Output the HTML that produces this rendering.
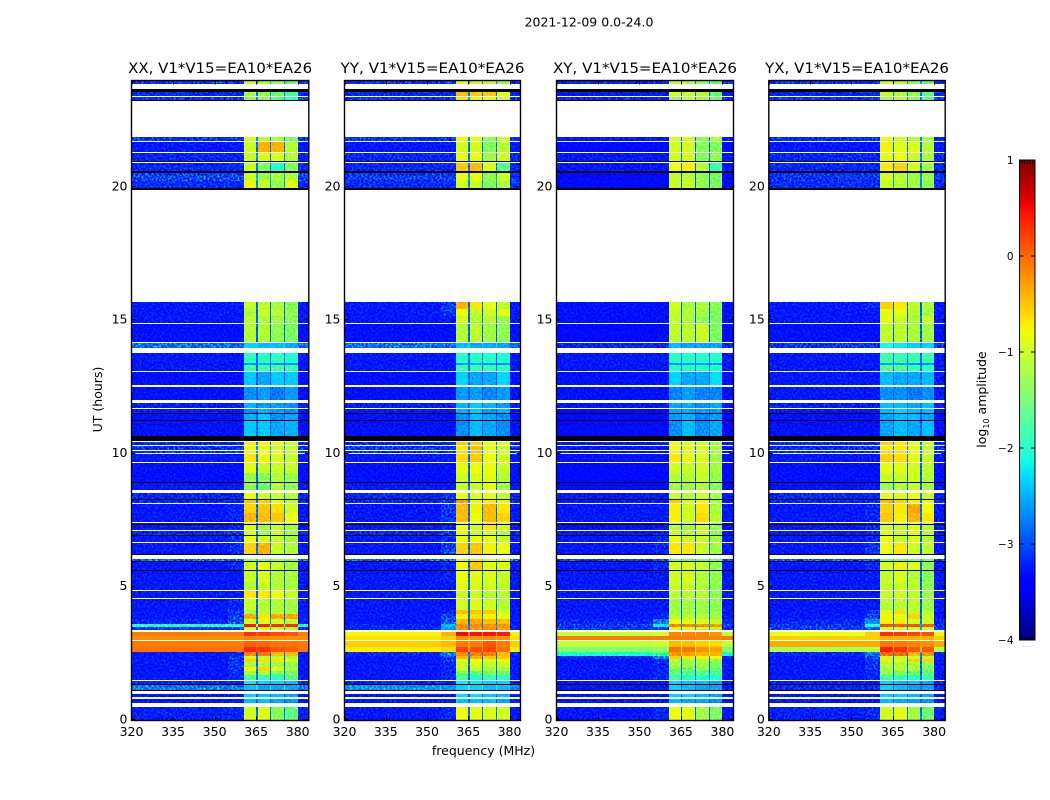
<!DOCTYPE html>
<html lang="en">
<head>
<meta charset="utf-8">
<title>2021-12-09 0.0-24.0</title>
<style>
html,body{margin:0;padding:0;background:#fff;width:1050px;height:800px;overflow:hidden}
svg{display:block}
text{font-family:"DejaVu Sans","Liberation Sans",sans-serif;fill:#000}
</style>
</head>
<body>
<svg id="figure" width="1050" height="800" viewBox="0 0 1050 800" xmlns="http://www.w3.org/2000/svg">
<defs>
<filter id="speckle" x="0" y="0" width="1" height="1" color-interpolation-filters="sRGB">
<feTurbulence type="fractalNoise" baseFrequency="0.5" numOctaves="2" seed="7"/>
<feColorMatrix type="matrix" values="2.6 0 0 0 -1 2.6 0 0 0 -1 2.6 0 0 0 -1 0 0 0 0 1"/>
</filter>
</defs>
<rect x="0" y="0" width="1050" height="800" fill="#fff"/>
<text x="589" y="26.5" font-size="12.5" text-anchor="middle">2021-12-09 0.0-24.0</text>
<g id="panels"></g>
<text x="0" y="0" font-size="12.5" text-anchor="middle" transform="translate(102 399.5) rotate(-90)">UT (hours)</text>
<text x="483.5" y="755" font-size="12.5" text-anchor="middle">frequency (MHz)</text>
<g id="colorbar"></g>
<text x="0" y="0" font-size="12.5" text-anchor="middle" transform="translate(986 399.5) rotate(-90)">log<tspan font-size="8" dy="3">10</tspan><tspan dy="-3"> amplitude</tspan></text>
</svg>
<script>
// ---- axis data ----
const xTicks = [320, 335, 350, 365, 380];
const yTicks = [0, 5, 10, 15, 20];
const colorbarTicks = [-4, -3, -2, -1, 0, 1];
const panelTitles = ["XX, V1*V15=EA10*EA26", "YY, V1*V15=EA10*EA26", "XY, V1*V15=EA10*EA26", "YX, V1*V15=EA10*EA26"];

// ---- frequency channels (MHz): off-band, near-band, subband 1, gap, subband 2, gap, subband 3, gap, subband 4, off-band ----
const freqEdges = [320, 355, 360.5, 365, 365.5, 370, 370.5, 375, 375.5, 380, 384];

// ---- time rows with data (UT hours) ----
const utStart = [0,.64,.86,1.15,1.36,
1.50,1.69,1.84,1.99,2.18,
2.29,2.40,2.54,2.74,3.02,
3.15,3.38,3.49,3.62,3.79,
3.98,4.13,4.57,4.87,5.19,
5.65,5.96,6.25,6.69,6.96,
7.15,7.35,7.44,7.79,8.13,
8.29,8.65,8.92,9.29,9.67,
10.01,10.14,10.31,10.66,11.25,
11.54,11.70,12.00,12.54,12.59,
13.08,13.31,13.41,13.97,14.18,
14.89,15.18,15.43,19.95,20.22,
20.60,20.97,21.30,21.74,23.26,
23.41,23.88];
const utEnd = [.51,.80,1.00,1.31,1.48,
1.69,1.84,1.99,2.18,2.29,
2.40,2.54,2.74,2.98,3.15,
3.29,3.49,3.62,3.79,3.98,
4.13,4.54,4.85,5.19,5.62,
5.92,6.04,6.64,6.94,7.13,
7.33,7.41,7.79,8.10,8.27,
8.54,8.89,9.29,9.64,9.98,
10.11,10.28,10.45,11.21,11.50,
11.66,11.89,12.51,12.56,13.05,
13.31,13.41,13.76,14.14,14.85,
15.18,15.43,15.68,20.22,20.52,
20.89,21.27,21.69,21.87,23.37,
23.57,24];

// ---- flagged time ranges: missing (white) and zero (black) ----
const missingStart = [.51,.80,1.00,1.48,2.98,3.29,4.54,4.85,6.04,6.64,7.13,7.41,8.10,8.54,9.64,9.98,10.11,10.28,10.45,11.66,11.89,12.51,12.56,13.05,13.76,14.14,14.85,15.68,20.89,21.27,21.69,21.87,23.37,23.67];
const missingEnd = [.64,.86,1.09,1.50,3.02,3.38,4.57,4.87,6.20,6.69,7.15,7.44,8.13,8.65,9.67,10.01,10.14,10.31,10.49,11.70,12.00,12.54,12.59,13.08,13.97,14.18,14.89,19.88,20.93,21.30,21.74,23.22,23.41,23.88];
const zeroStart = [1.09,1.31,5.62,5.92,6.20,6.94,7.33,8.27,8.89,10.49,11.21,11.50,19.88,20.52,20.93,23.22,23.57];
const zeroEnd = [1.15,1.36,5.65,5.96,6.25,6.96,7.35,8.29,8.92,10.66,11.25,11.54,19.95,20.60,20.97,23.26,23.67];

// ---- log10 amplitude per data row: [off-band, near-band, sub1, sub2, sub3, sub4] ----
const xxLevels = [
[-3.15,-3.1,-.95,-.9,-1.35,-1.6],[-3.2,-3.2,-2.4,-2.4,-2.5,-2.6],[-3.2,-3.2,-2.3,-2.35,-2.4,-2.5],[-2.6,-2.6,-2.4,-2.5,-2.5,-2.5],[-3.1,-3.1,-2.2,-2.3,-2.3,-2.4],
[-3.2,-3.1,-1.7,-1.9,-2,-1.6],[-3.2,-3.05,-1.2,-1.1,-1.4,-1.4],[-3.2,-3,-.75,-.6,-.9,-1.2],[-3.2,-3,-1.2,-1.1,-1.2,-1.3],[-3.2,-3,-.6,-.65,-.65,-.85],
[-3.2,-3,-1,-1.1,-1.1,-1.2],[-3.2,-3.05,-.25,-.2,-.5,-.5],[-.05,-.05,.35,.3,.1,.05],[-.1,-.1,.05,0,-.05,-.05],[-.2,-.2,-.15,-.2,-.2,-.2],
[-.1,-.1,.3,.25,.15,.1],[-3,-2.9,-.9,-.9,-1,-1.1],[-1.9,-1.9,.45,.4,.3,.3],[-3.1,-2.8,-1,-.9,-1,-1.1],[-3.2,-2.9,-.4,-.7,-.4,-.4],
[-3.2,-3,-1.2,-1.1,-1.1,-1.2],[-3.2,-3.1,-1,-1.1,-1.1,-1.2],[-3.2,-3.2,-.7,-.7,-.8,-1],[-3.2,-3.2,-1.1,-1,-1.1,-1.15],[-3.2,-3.2,-1,-.9,-1.1,-1.15],
[-3.2,-3.1,-.95,-.85,-1,-1.2],[-2.7,-2.7,-1.3,-1.3,-1.3,-1.4],[-3.2,-3.05,-.6,-.45,-1,-1.1],[-3.2,-3.05,-.8,-.9,-1,-1.2],[-3.1,-3,-.9,-1.2,-1,-1.2],
[-3.2,-3.1,-.9,-1.2,-1,-1.2],[-3.2,-3.1,-.9,-1.2,-1,-1.2],[-3.2,-3.1,-.45,-.5,-.55,-.8],[-3.2,-3.1,-.6,-.55,-.65,-.95],[-3.1,-3.1,-.55,-.55,-.85,-1.1],
[-3.1,-3.1,-.8,-.95,-1,-1.1],[-3.2,-3.2,-1.3,-1.5,-1.1,-1.3],[-3.25,-3.25,-1.25,-1.35,-1.1,-1.25],[-3.25,-3.25,-.85,-1,-1,-1],[-3.2,-3.2,-.7,-.8,-.9,-1],
[-3,-3,-.75,-.8,-.9,-1],[-3,-3,-.85,-.9,-.95,-1],[-3.1,-3.1,-.7,-.75,-.85,-1],[-3.25,-3.25,-2.35,-2.35,-2.5,-2.45],[-3.25,-3.25,-2.45,-2.35,-2.6,-2.5],
[-3.2,-3.2,-2.6,-2.45,-2.55,-2.6],[-3.15,-3.15,-2.45,-2.55,-2.55,-2.6],[-3.25,-3.25,-2.6,-2.55,-2.7,-2.55],[-3.1,-3.1,-2.4,-2.4,-2.5,-2.5],[-3.25,-3.25,-2.35,-2.5,-2.35,-2.35],
[-3.2,-3.2,-1.85,-1.85,-1.8,-1.9],[-3.2,-3.2,-2.6,-2.5,-2.6,-2.6],[-3.2,-3.2,-1.95,-1.95,-1.95,-2.05],[-2.65,-2.65,-2.3,-2.4,-2.4,-2.5],[-3.25,-3.25,-1.1,-1.1,-1.3,-1.4],
[-3.2,-3.2,-1.05,-1.15,-1.2,-1.35],[-3.2,-3.2,-1.15,-1,-1.1,-1.3],[-3.2,-3.2,-1,-1.05,-1.15,-1.35],[-3.05,-3.05,-.75,-1,-1.3,-.85],[-2.85,-2.85,-1,-1.2,-1.2,-1.1],
[-3.1,-3.1,-1,-1.4,-2,-1.4],[-3.1,-3.1,-1,-.9,-.9,-1.1],[-3.2,-3.2,-1,-.45,-.45,-1.1],[-3,-3,-.95,-1.1,-1.2,-1.4],[-3,-3,-1.3,-1.3,-1.6,-1.9],
[-3.1,-3.1,-1.2,-1.3,-1.5,-1.8],[-3,-3,-1,-1.2,-1.3,-1.6]];

const yyLevels = [
[-3.2,-3.1,-.8,-.85,-.9,-.95],[-3.2,-3.2,-2.4,-2.4,-2.4,-2.5],[-3.2,-3.2,-2.25,-2.25,-2.35,-2.4],[-2.5,-2.5,-2.3,-2.3,-2.4,-2.4],[-3.1,-3.1,-2.2,-2.2,-2.3,-2.3],
[-3.2,-3.1,-1.7,-2,-1.9,-1.9],[-3.2,-3.1,-1.5,-1.6,-1.4,-1.5],[-3.2,-3.1,-.95,-1,-1.2,-1.2],[-3.2,-3.1,-1,-.9,-1,-1],[-3.2,-3,-.9,-.8,-.95,-.75],
[-3.2,-2.9,-.5,-.45,-.55,-.55],[-3.1,-2.6,-.25,-.2,-.2,-.45],[-.7,-.6,.2,.15,.2,-.05],[-.55,-.45,-.1,-.1,.1,-.1],[-.65,-.55,-.2,-.25,-.2,-.2],
[-.75,-.4,.5,.45,.45,.4],[-3.1,-2.5,-.3,-.35,-.3,-.35],[-3.1,-2.4,-.25,-.25,-.3,-.3],[-3.2,-2.7,-.45,-.4,-.5,-.5],[-3.2,-2.9,-.75,-.65,-.75,-.85],
[-3.2,-3.1,-.5,-.55,-.55,-.95],[-3.2,-3.2,-.95,-.9,-.95,-1.1],[-3.2,-3.2,-1,-1,-1.1,-1.1],[-3.2,-3.2,-.85,-.9,-.95,-1.05],[-3.2,-3.1,-.8,-.85,-.9,-1],
[-3.2,-3.1,-.8,-.55,-.85,-.9],[-2.7,-2.7,-.75,-.7,-.85,-.9],[-3.2,-2.9,-.6,-.55,-.75,-.8],[-3.2,-3.1,-.8,-.8,-.85,-1],[-3.1,-3,-.85,-1,-.9,-1.1],
[-3.2,-3.1,-.8,-.95,-.7,-.95],[-3.2,-3.1,-.8,-.95,-.7,-.95],[-3.2,-3,-.5,-.8,-.5,-.6],[-3.2,-3,-.5,-.75,-.5,-.7],[-3.1,-2.9,-.35,-.85,-.7,-.9],
[-3.1,-3,-.8,-.9,-.85,-1],[-3.2,-3.2,-1,-1,-.85,-1.2],[-3.25,-3.25,-1,-.9,-.85,-1.1],[-3.25,-3.25,-.85,-.8,-.8,-1],[-3.2,-3.2,-.65,-.55,-.8,-.95],
[-3,-3,-.6,-.5,-.8,-.95],[-3,-3,-.7,-.5,-.85,-1],[-3.1,-3.1,-.55,-.6,-.8,-.9],[-3.25,-3.25,-2.6,-2.4,-2.5,-2.6],[-3.25,-3.25,-2.6,-2.4,-2.5,-2.6],
[-3.2,-3.2,-2.45,-2.35,-2.55,-2.45],[-3.15,-3.15,-2.45,-2.35,-2.45,-2.55],[-3.25,-3.25,-2.55,-2.55,-2.65,-2.55],[-3.1,-3.1,-2.4,-2.4,-2.5,-2.5],[-3.25,-3.25,-2.3,-2.5,-2.5,-2.3],
[-3.2,-3.2,-1.85,-1.9,-1.9,-1.95],[-3.2,-3.2,-2.6,-2.5,-2.6,-2.6],[-3.2,-3.2,-2,-2,-2,-2.05],[-2.65,-2.65,-2.4,-2.5,-2.5,-2.5],[-3.25,-3.25,-1.1,-1.05,-1.2,-1.3],
[-3.2,-3.2,-.95,-1.1,-1.1,-1.25],[-3.2,-2.95,-.8,-1.05,-.95,-.85],[-3.2,-2.95,-.45,-.7,-.85,-1.05],[-3.05,-3.05,-.95,-1,-1.4,-1.15],[-2.95,-2.95,-.85,-.8,-1.3,-1],
[-3.1,-3.1,-.55,-.5,-.9,-1.7],[-3.1,-3.1,-.85,-.85,-1.2,-1],[-3.2,-3.2,-.95,-.95,-1.4,-1.1],[-3,-3,-.75,-.85,-1.25,-1],[-3,-3,-.65,-.75,-.75,-.95],
[-3.1,-3.1,-.5,-.55,-.55,-.85],[-3,-3,-.9,-1,-1.1,-1.3]];

const xyLevels = [
[-3.2,-3.1,-.8,-.85,-1.2,-1.4],[-3.2,-3.2,-2.4,-2.5,-2.5,-2.6],[-3.2,-3.2,-2.3,-2.3,-2.4,-2.5],[-3.2,-3.2,-2.3,-2.4,-2.5,-2.5],[-3.2,-3.2,-2.3,-2.4,-2.4,-2.5],
[-3.2,-3.1,-1.8,-2,-2,-2],[-3.2,-3.1,-1.6,-1.7,-1.7,-1.8],[-3.2,-3.1,-1.4,-1.5,-1.3,-1.5],[-3.2,-3.1,-1.2,-1.2,-1.2,-1.4],[-3.2,-3.1,-1.1,-1.2,-1.1,-1.3],
[-3.1,-2.6,-.6,-.7,-.75,-.8],[-2,-1.8,-.3,-.35,-.45,-.45],[-1.5,-1.4,-.05,-.05,-.2,-.3],[-1.05,-1,-.45,-.45,-.55,-.6],[-.1,-.1,-.1,-.1,-.15,-.15],
[-1.05,-1,-.15,-.15,-.15,-.25],[-3,-2.9,-.9,-.85,-1,-1.1],[-2.9,-2.2,-.2,-.2,-.25,-.3],[-3.1,-2.6,-.8,-.85,-.9,-1],[-3.2,-3.1,-1.1,-1.1,-1.1,-1.2],
[-3.2,-3.2,-1.2,-1.2,-1.2,-1.3],[-3.2,-3.2,-1.2,-1.2,-1.2,-1.3],[-3.2,-3.2,-1.1,-1.1,-1.1,-1.3],[-3.2,-3.2,-1,-1,-1.1,-1.3],[-3.2,-3.2,-.95,-.9,-1.1,-1.25],
[-3.2,-3.1,-.9,-.9,-1,-1.3],[-2.9,-2.9,-1.5,-1.5,-1.5,-1.5],[-3.2,-3.1,-.7,-.7,-1,-1.2],[-3.2,-3.1,-.8,-1,-.95,-1.2],[-3.2,-3.1,-1,-1.1,-1,-1.3],
[-3.25,-3.2,-1.1,-1.2,-.95,-1.3],[-3.25,-3.2,-1.1,-1.2,-.95,-1.3],[-3.2,-3.2,-.75,-.95,-.65,-1.1],[-3.2,-3.2,-.75,-.95,-.7,-1.15],[-3.2,-3.2,-.55,-.95,-.75,-1.15],
[-3.2,-3.2,-1,-1.1,-.95,-1.2],[-3.3,-3.3,-1.2,-1.2,-1.1,-1.35],[-3.3,-3.3,-1.1,-1.1,-1,-1.25],[-3.3,-3.3,-.95,-1,-.95,-1.2],[-3.25,-3.25,-.7,-.85,-.9,-1.2],
[-3.2,-3.2,-.75,-.85,-.9,-1.15],[-3.2,-3.2,-.8,-.9,-.95,-1.2],[-3.2,-3.2,-.8,-.85,-.95,-1.2],[-3.3,-3.3,-2.6,-2.4,-2.6,-2.5],[-3.3,-3.3,-2.55,-2.45,-2.65,-2.55],
[-3.3,-3.3,-2.5,-2.5,-2.55,-2.55],[-3.2,-3.2,-2.5,-2.5,-2.6,-2.5],[-3.25,-3.25,-2.65,-2.55,-2.65,-2.65],[-3.2,-3.2,-2.5,-2.5,-2.6,-2.5],[-3.25,-3.25,-2.3,-2.5,-2.5,-2.25],
[-3.2,-3.2,-2,-2,-2,-2.05],[-3.2,-3.2,-2.6,-2.6,-2.6,-2.6],[-3.2,-3.2,-2,-2,-2,-2],[-3.1,-3.1,-2.4,-2.5,-2.5,-2.5],[-3.3,-3.3,-1.05,-1.05,-1,-1.4],
[-3.25,-3.25,-1.05,-1.15,-1.3,-1.4],[-3.25,-3.25,-1,-1.1,-1.2,-1.4],[-3.25,-3.25,-.95,-1.2,-1.15,-1.35],[-3.3,-3.3,-1,-1,-1.3,-1.4],[-3.3,-3.3,-1,-1.05,-1.3,-1.45],
[-3.2,-3.2,-.8,-.75,-1.1,-1.9],[-3.2,-3.2,-.95,-.95,-1.35,-1.3],[-3.3,-3.3,-.95,-.95,-1.35,-1.4],[-3.2,-3.2,-.9,-.95,-1.3,-1.2],[-3.1,-3.1,-1.25,-1.1,-1.2,-1.45],
[-3.2,-3.2,-.95,-1,-1.1,-1.55],[-3.1,-3.1,-1.1,-1.2,-1.3,-1.5]];

const yxLevels = [
[-3.15,-3.1,-.95,-.85,-1.2,-1.5],[-3.2,-3.2,-2.4,-2.5,-2.5,-2.6],[-3.2,-3.2,-2.3,-2.3,-2.4,-2.5],[-3.1,-3.1,-2.3,-2.4,-2.5,-2.5],[-3.15,-3.15,-2.3,-2.4,-2.4,-2.5],
[-3.2,-3.1,-1.8,-1.9,-2,-1.9],[-3.2,-3.1,-1.3,-1.4,-1.5,-1.6],[-3.2,-3,-1.2,-1.1,-1.2,-1.4],[-3.2,-3,-1.1,-1.1,-1.15,-1.3],[-3.2,-3,-.7,-.95,-.6,-.6],
[-3.2,-2.8,-1,-1,-1,-1.1],[-3.1,-2.6,-.1,-.1,-.45,-.3],[-1.2,-1.1,.4,.3,.1,.1],[-.35,-.35,-.1,-.1,-.15,-.2],[-.55,-.55,-.4,-.4,-.4,-.4],
[-.8,-.55,.3,.25,.2,.15],[-2.9,-2.7,-.9,-.9,-.95,-1],[-3,-2,.1,.05,.05,.05],[-3.1,-2.5,-.75,-.75,-.95,-1],[-3.2,-2.9,-.75,-.85,-.6,-1],
[-3.2,-3,-.9,-.65,-1.05,-1.1],[-3.2,-3.2,-1.1,-1.1,-1.05,-1.25],[-3.2,-3.2,-1.05,-1,-1.05,-1.25],[-3.2,-3.2,-1,-1,-1.05,-1.3],[-3.2,-3.2,-1,-.9,-1.1,-1.35],
[-3.2,-3.1,-.9,-.75,-.85,-1.3],[-2.8,-2.8,-1.4,-1.4,-1.4,-1.5],[-3.2,-3,-.8,-.7,-.95,-1.05],[-3.2,-3.1,-.8,-1,-.9,-1.1],[-3.2,-3.1,-.9,-1,-.9,-1.1],
[-3.2,-3.1,-.95,-1,-.85,-1.1],[-3.2,-3.1,-.95,-1,-.85,-1.1],[-3.2,-3.1,-.55,-.75,-.45,-.7],[-3.2,-3.1,-.6,-.7,-.4,-.8],[-3.1,-3.1,-.45,-.6,-.75,-.85],
[-3.1,-3.1,-.85,-.9,-.8,-1],[-3.25,-3.2,-1.25,-1.15,-1,-1.15],[-3.25,-3.25,-1,-1,-.95,-1.1],[-3.25,-3.25,-.85,-.85,-.95,-1.05],[-3.2,-3.2,-.6,-.65,-.85,-1],
[-3.05,-3.05,-.6,-.65,-.85,-1],[-3.05,-3.05,-.7,-.7,-.9,-1.05],[-3.1,-3.1,-.6,-.7,-.85,-1],[-3.25,-3.25,-2.5,-2.4,-2.5,-2.4],[-3.25,-3.25,-2.5,-2.4,-2.4,-2.5],
[-3.2,-3.2,-2.4,-2.3,-2.4,-2.4],[-3.15,-3.15,-2.4,-2.4,-2.5,-2.4],[-3.2,-3.2,-2.6,-2.6,-2.7,-2.6],[-3.1,-3.1,-2.4,-2.4,-2.5,-2.4],[-3.2,-3.2,-2.4,-2.5,-2.5,-2.4],
[-3.2,-3.2,-1.65,-1.65,-1.9,-1.95],[-3.2,-3.2,-2.5,-2.5,-2.6,-2.6],[-3.2,-3.2,-1.8,-1.85,-1.85,-1.85],[-3,-3,-2.1,-2.2,-2.3,-2.3],[-3.25,-3.25,-1.05,-1.05,-1.15,-1.2],
[-3.2,-3.2,-.85,-1,-1.15,-1],[-3.2,-3.2,-.85,-.85,-1.1,-1.2],[-3.2,-3.1,-.6,-.7,-1.05,-1.15],[-3.05,-3.05,-1,-1.1,-1.2,-1.3],[-3,-3,-.95,-1.05,-1.2,-1.25],
[-3.1,-3.1,-.7,-.6,-.9,-1.2],[-3.1,-3.1,-.85,-.8,-1,-1.15],[-3.2,-3.2,-.75,-.85,-.9,-1.1],[-3.05,-3.05,-.85,-.95,-1.1,-1.2],[-3,-3,-1.15,-1.1,-1.3,-1.6],
[-3.1,-3.1,-1,-1.1,-1.3,-1.6],[-3,-3,-1,-1.15,-1.3,-1.5]];

const panelLevels = [xxLevels, yyLevels, xyLevels, yxLevels];

// ---- layout ----
const NS = "http://www.w3.org/2000/svg";
const panelLeft = [131.5, 344.5, 556.5, 768.8];
const panelRight = [308.8, 520.5, 733.5, 945.2];
const plotTop = 80.5, plotBottom = 720.5;
const freqMin = 320, freqMax = 384;
const levelMin = -4, levelMax = 1;

function xScale(p, f) {
  return panelLeft[p] + (f - freqMin) / (freqMax - freqMin) * (panelRight[p] - panelLeft[p]);
}
function yScale(h) {
  return 720.2 - h * 26.66;
}
function clamp01(v) { return Math.max(0, Math.min(1, v)); }
function jet(level) {
  const t = clamp01((level - levelMin) / (levelMax - levelMin));
  const r = clamp01(Math.min((t - 0.35) / 0.31, t > 0.89 ? 0.5 + (1 - t) / 0.22 : 1));
  const g = clamp01(t < 0.64 ? (t - 0.125) / 0.25 : (0.91 - t) / 0.27);
  const b = clamp01(t < 0.11 ? 0.5 + t / 0.22 : (0.65 - t) / 0.31);
  return "rgb(" + Math.round(r * 255) + "," + Math.round(g * 255) + "," + Math.round(b * 255) + ")";
}
function svgEl(tag, attrs, parent) {
  const e = document.createElementNS(NS, tag);
  for (const k in attrs) e.setAttribute(k, attrs[k]);
  parent.appendChild(e);
  return e;
}
// which level column each frequency channel uses (-1 = gap between subbands)
const channelSource = [0, 1, 2, -1, 3, -1, 4, -1, 5, 0];

function gapLevel(row) {
  return row[0] < -2 ? row[0] + 0.4 : (row[0] + row[2]) / 2;
}
function rowSpan(h0, h1) {
  const top = Math.round(yScale(h1));
  const bottom = Math.max(top + 1, Math.round(yScale(h0)));
  return {top: top, height: bottom - top};
}

const panelsGroup = document.getElementById("panels");
panelTitles.forEach(function (title, p) {
  const g = svgEl("g", {}, panelsGroup);
  
  
  const L = panelLeft[p], R = panelRight[p];
  const heat = svgEl("g", {style: "isolation:isolate", "shape-rendering": "crispEdges"}, g);
  
  
  const base = svgEl("rect", {x: L, y: plotTop, width: R - L, height: plotBottom - plotTop, fill: "#fff"}, heat);
  
  
  const levels = panelLevels[p];
  utStart.forEach(function (h0, i) {
    const span = rowSpan(h0, utEnd[i]);
    const row = levels[i];
    for (let c = 0; c < channelSource.length; c++) {
      const src = channelSource[c];
      const value = src < 0 ? gapLevel(row) : row[src];
      const x0 = Math.round(xScale(p, freqEdges[c]));
      const x1 = Math.round(xScale(p, freqEdges[c + 1]));
      const cell = svgEl("rect", {x: x0, y: span.top, width: Math.max(1, x1 - x0), height: span.height, fill: jet(value)}, heat);
      
      
    }
  });
  // receiver noise texture: none over the smooth RFI hours, light inside the subbands
  [[0, 2.54], [3.38, 24]].forEach(function (span) {
    const top = yScale(span[1]), h = yScale(span[0]) - top;
    [[freqMin, 360.5, 1], [360.5, 380, 0.4], [380, freqMax, 1]].forEach(function (zone) {
      const x0 = Math.round(xScale(p, zone[0])), x1 = Math.round(xScale(p, zone[1]));
      const noise = svgEl("rect", {x: x0, y: top, width: x1 - x0, height: h, filter: "url(#speckle)", style: "mix-blend-mode:overlay;opacity:" + zone[2]}, heat);
      
      
    });
  });
  missingStart.forEach(function (h0, i) {
    const span = rowSpan(h0, missingEnd[i]);
    const blank = svgEl("rect", {x: L, y: span.top, width: R - L, height: span.height, fill: "#fff"}, heat);
    
    
  });
  zeroStart.forEach(function (h0, i) {
    const span = rowSpan(h0, zeroEnd[i]);
    const zero = svgEl("rect", {x: L, y: span.top, width: R - L, height: span.height, fill: "#000"}, heat);
    
    
  });

  const spine = svgEl("rect", {x: L, y: plotTop, width: R - L, height: plotBottom - plotTop, fill: "none", stroke: "#000", "stroke-width": 1.4}, g);
  
  

  xTicks.forEach(function (v) {
    const x = Math.round(xScale(p, v)) + 0.5;
    const tb = svgEl("line", {x1: x, x2: x, y1: plotBottom, y2: plotBottom - 4, stroke: "#000"}, g);
    
    
    const tt = svgEl("line", {x1: x, x2: x, y1: plotTop, y2: plotTop + 4, stroke: "#000"}, g);
    
    
    const lab = svgEl("text", {x: xScale(p, v), y: 736, "font-size": 12.5, "text-anchor": "middle"}, g);
    
    
    lab.textContent = String(v);
  });
  yTicks.forEach(function (v) {
    const y = Math.round(yScale(v)) - 0.5;
    const tl = svgEl("line", {x1: L, x2: L + 4, y1: y, y2: y, stroke: "#000"}, g);
    
    
    const tr = svgEl("line", {x1: R, x2: R - 4, y1: y, y2: y, stroke: "#000"}, g);
    
    
    const lab = svgEl("text", {x: L - 4, y: yScale(v) + 3.3, "font-size": 12.5, "text-anchor": "end"}, g);
    
    
    lab.textContent = String(v);
  });
  const ttl = svgEl("text", {x: (L + R) / 2, y: 73, "font-size": 14.4, "text-anchor": "middle", textLength: 184, lengthAdjust: "spacingAndGlyphs"}, g);
  
  
  ttl.textContent = title;
});

// ---- colorbar ----
const cbLeft = 1019.5, cbRight = 1035, cbTop = 160, cbBottom = 640;
function cbScale(v) {
  return cbBottom - (v - levelMin) / (levelMax - levelMin) * (cbBottom - cbTop);
}
const cb = document.getElementById("colorbar");
for (let y = cbTop; y < cbBottom; y += 2) {
  const v = levelMin + (cbBottom - y - 1) / (cbBottom - cbTop) * (levelMax - levelMin);
  const stripe = svgEl("rect", {x: cbLeft, y: y, width: cbRight - cbLeft, height: 2, fill: jet(v), "shape-rendering": "crispEdges"}, cb);
  
  
}
const cbFrame = svgEl("rect", {x: cbLeft, y: cbTop, width: cbRight - cbLeft, height: cbBottom - cbTop, fill: "none", stroke: "#000"}, cb);


colorbarTicks.forEach(function (v) {
  const y = cbScale(v);
  const a = svgEl("line", {x1: cbLeft, x2: cbLeft + 4, y1: y, y2: y, stroke: "#000"}, cb);
  
  
  const b = svgEl("line", {x1: cbRight, x2: cbRight - 4, y1: y, y2: y, stroke: "#000"}, cb);
  
  
  const lab = svgEl("text", {x: 1013.5, y: y + 3.8, "font-size": 10.5, "text-anchor": "end"}, cb);
  
  
  lab.textContent = (v < 0 ? "\u2212" : "") + Math.abs(v);
});
for (let k = 1; k < 6; k++) {
  const x = cbLeft + k * (cbRight - cbLeft) / 6;
  const up = svgEl("line", {x1: x, x2: x, y1: cbTop, y2: cbTop + 4, stroke: "#000", "stroke-width": .8}, cb);
  
  
  const dn = svgEl("line", {x1: x, x2: x, y1: cbBottom, y2: cbBottom - 4, stroke: "#000", "stroke-width": .8}, cb);
  
  
}
const dots = svgEl("text", {x: 1026.5, y: 647, "font-size": 5, "text-anchor": "middle", style: "fill:#777"}, cb);


dots.textContent = "......";
</script>
</body>
</html>
